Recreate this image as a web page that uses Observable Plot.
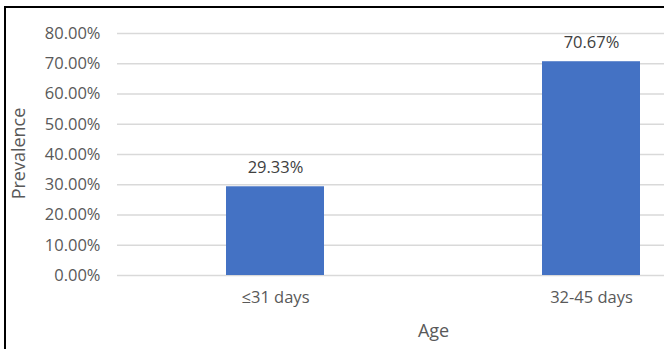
<!DOCTYPE html>
<html>
<head>
<meta charset="utf-8">
<script src="https://cdn.jsdelivr.net/npm/d3@7"></script>
<script src="https://cdn.jsdelivr.net/npm/@observablehq/plot@0.6"></script>
<style>
  html, body { margin: 0; padding: 0; background: #fff; overflow: hidden; }
  #wrap { position: relative; width: 664px; height: 349px; }
  #frame { position: absolute; left: 4px; top: 6px; width: 660px; height: 400px;
           border-left: 2px solid #000; border-top: 2px solid #000; pointer-events: none; }
</style>
</head>
<body>
<div id="wrap"><div id="chart"></div><div id="frame"></div></div>
<script>
const categories = ["≤31 days", "32-45 days"];
const prevalence = [29.33, 70.67];
const yTicks = [0, 10, 20, 30, 40, 50, 60, 70, 80];
const xTitle = "Age";
const yTitle = "Prevalence";

const data = categories.map((c, i) => ({age: c, value: prevalence[i]}));
const font = "'Open Sans', sans-serif";

const chart = Plot.plot({
  width: 664,
  height: 349,
  marginLeft: 117,
  marginRight: 0,
  marginTop: 33,
  marginBottom: 74,
  style: {fontFamily: font, fontSize: "16.5px", background: "transparent"},
  x: {domain: categories, range: [117, 749], paddingInner: 0.69, paddingOuter: 0.345, axis: null},
  y: {domain: [0, 80], axis: null},
  marks: [
    Plot.ruleY(yTicks, {stroke: "#d9d9d9", strokeWidth: 1.5}),
    Plot.barY(data, {x: "age", y: "value", fill: "#4472C4"}),
    Plot.text(data, {x: "age", y: "value", text: d => d.value.toFixed(2) + "%", dy: -19.5, fill: "#404040", fontSize: 16.5}),
    Plot.axisY({ticks: yTicks, tickSize: 0, tickPadding: 17, tickFormat: d => d.toFixed(2) + "%", fill: "#595959", fontSize: 16.5, label: null}),
    Plot.axisX({tickSize: 0, tickPadding: 16, fill: "#595959", fontSize: 16.5, label: null}),
    Plot.text([xTitle], {frameAnchor: "bottom", lineAnchor: "middle", textAnchor: "middle", text: d => d, dx: 42.5, dy: 56, fill: "#595959", fontSize: 18}),
    Plot.text([yTitle], {frameAnchor: "left", textAnchor: "middle", lineAnchor: "middle", text: d => d, rotate: -90, dx: -98, dy: -1, fill: "#595959", fontSize: 18})
  ]
});
document.getElementById("chart").appendChild(chart);
</script>
</body>
</html>
